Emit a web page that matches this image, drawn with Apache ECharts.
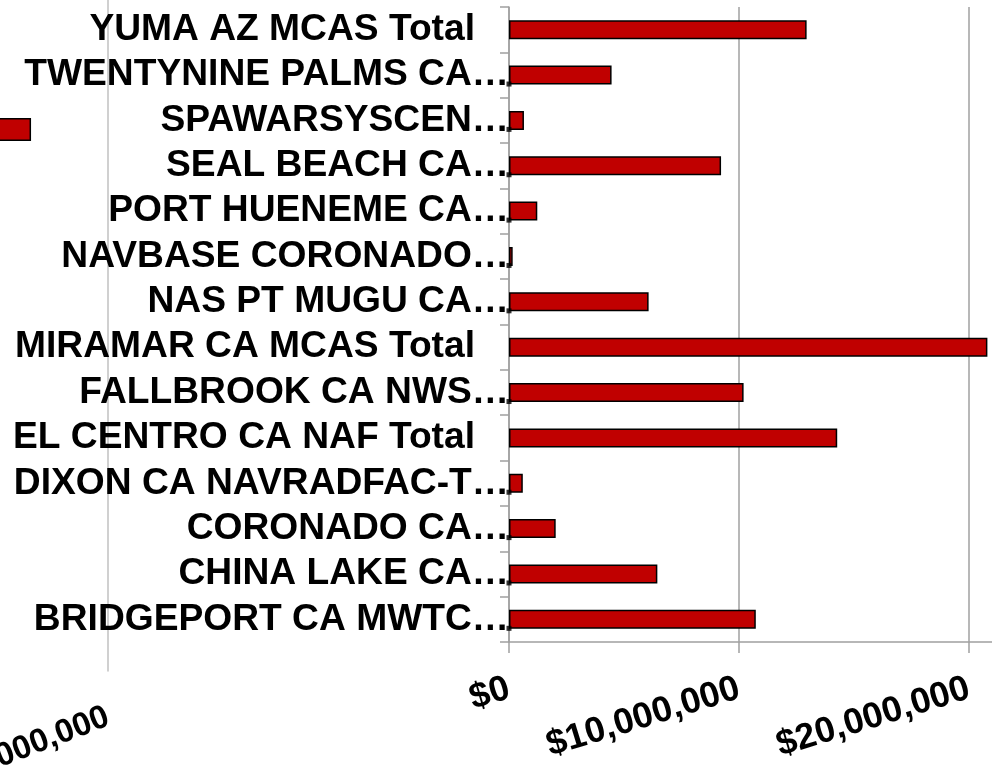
<!DOCTYPE html>
<html>
<head>
<meta charset="utf-8">
<script src="https://cdn.jsdelivr.net/npm/echarts@6/dist/echarts.min.js"></script>
<style>
html,body{margin:0;padding:0;background:#fff;}
#chart{width:992px;height:765px;}
</style>
</head>
<body>
<div id="chart"></div>
<script>
// Categories, top to bottom as shown
var categories = [
  'YUMA AZ MCAS Total',
  'TWENTYNINE PALMS CA…',
  'SPAWARSYSCEN…',
  'SEAL BEACH CA…',
  'PORT HUENEME CA…',
  'NAVBASE CORONADO…',
  'NAS PT MUGU CA…',
  'MIRAMAR CA MCAS Total',
  'FALLBROOK CA NWS…',
  'EL CENTRO CA NAF Total',
  'DIXON CA NAVRADFAC-T…',
  'CORONADO CA…',
  'CHINA LAKE CA…',
  'BRIDGEPORT CA MWTC…'
];
// Values in dollars
var values = [
  12940000, 4460000, 650000, 9220000, 1230000, 160000, 6070000,
  20800000, 10200000, 14270000, 600000, 2030000, 6450000, 10730000
];
// Small base markers (rows that show them)
var markerRows = [
  'TWENTYNINE PALMS CA…','SPAWARSYSCEN…','SEAL BEACH CA…','PORT HUENEME CA…',
  'NAVBASE CORONADO…','NAS PT MUGU CA…','FALLBROOK CA NWS…','DIXON CA NAVRADFAC-T…',
  'CORONADO CA…','CHINA LAKE CA…','BRIDGEPORT CA MWTC…'
];
var xTickLabels = ['$0', '$10,000,000', '$20,000,000', '$30,000,000'];
// Stray fragment of a second chart at left edge
var strayCategories = [''];
var strayValues = [11350000];
var strayAxisLabels = ['$-10,000,000'];

var FONT = '"Liberation Sans", Arial, sans-serif';
var chart = echarts.init(document.getElementById('chart'), null, {renderer: 'canvas'});

var option = {
  backgroundColor: '#ffffff',
  animation: false,
  grid: [
    {left: 509, top: 7, width: 690, height: 635, containLabel: false, outerBoundsMode: 'none'},
    {left: 108, top: -5, width: 200, height: 676, containLabel: false, outerBoundsMode: 'none'},
    {left: -230, top: 118, width: 460, height: 23, containLabel: false, outerBoundsMode: 'none'}
  ],
  xAxis: [
    {
      gridIndex: 0, type: 'value', min: 0, max: 30000000, interval: 10000000,
      axisLine: {show: true, lineStyle: {color: '#a0a0a0', width: 1.5}},
      axisTick: {show: true, length: 11, lineStyle: {color: '#a0a0a0', width: 1.5}},
      splitLine: {show: true, lineStyle: {color: '#a0a0a0', width: 1.5}},
      axisLabel: {
        rotate: 17, margin: 46, color: '#000', fontSize: 36, fontWeight: 'bold',
        fontFamily: FONT, hideOverlap: false,
        formatter: function (v) { return xTickLabels[Math.round(v / 10000000)]; }
      }
    },
    {
      gridIndex: 1, type: 'value', min: 0, max: 10000000, interval: 10000000,
      axisLine: {show: false}, axisTick: {show: false}, splitLine: {show: false},
      axisLabel: {
        rotate: 21, margin: 45, color: '#000', fontSize: 33, fontWeight: 'bold',
        fontFamily: FONT, showMaxLabel: false,
        formatter: function (v) { return v === 0 ? strayAxisLabels[0] : ''; }
      }
    },
    {
      gridIndex: 2, type: 'value', min: 0, max: 20000000,
      show: false
    }
  ],
  yAxis: [
    {
      gridIndex: 0, type: 'category', data: categories, inverse: true,
      axisLine: {show: true, lineStyle: {color: '#a0a0a0', width: 1.5}},
      axisTick: {show: true, length: 9, interval: 0, lineStyle: {color: '#a0a0a0', width: 1.5}},
      splitLine: {show: false},
      axisLabel: {
        interval: 0, hideOverlap: false,
        margin: 0, color: '#000', fontSize: 37.2, fontWeight: 'bold', fontFamily: FONT,
        formatter: function (v) {
          return /Total$/.test(v) ? '{t|' + v + '}' : '{e|' + v + '}';
        },
        rich: {
          t: {fontSize: 37.2, fontWeight: 'bold', fontFamily: FONT, color: '#000', padding: [0, 34, 0, 0]},
          e: {fontSize: 37.2, fontWeight: 'bold', fontFamily: FONT, color: '#000', padding: [0, 0, 0, 0]}
        }
      }
    },
    {
      gridIndex: 1, type: 'category', data: strayCategories,
      axisLine: {show: true, lineStyle: {color: '#c0c0c0', width: 1.5}},
      axisTick: {show: false}, axisLabel: {show: false}, splitLine: {show: false}
    },
    {
      gridIndex: 2, type: 'category', data: strayCategories, show: false
    }
  ],
  series: [
    {
      type: 'bar', xAxisIndex: 0, yAxisIndex: 0, data: values,
      barWidth: 19,
      itemStyle: {color: '#c00000', borderColor: '#000', borderWidth: 1.5}
    },
    {
      type: 'scatter', xAxisIndex: 0, yAxisIndex: 0,
      data: markerRows.map(function (c) { return [0, c]; }),
      symbol: 'rect', symbolSize: 5, symbolOffset: [0, 9],
      itemStyle: {color: '#000'}, z: 5, silent: true
    },
    {
      type: 'bar', xAxisIndex: 2, yAxisIndex: 2, data: strayValues,
      barWidth: 23,
      itemStyle: {color: '#c00000', borderColor: '#000', borderWidth: 1.5}
    }
  ]
};
chart.setOption(option);
</script>
</body>
</html>
